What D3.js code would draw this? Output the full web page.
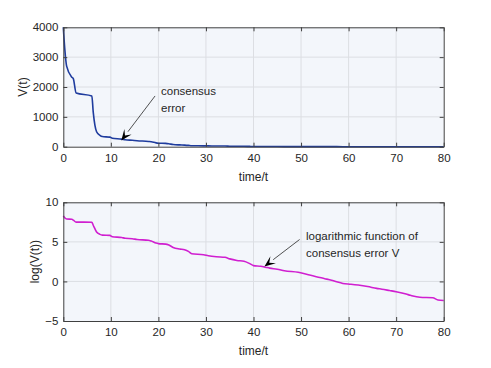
<!DOCTYPE html>
<html>
<head>
<meta charset="utf-8">
<script src="https://cdn.jsdelivr.net/npm/d3@7"></script>
<style>
  body { margin: 0; background: #fff; }
  text { font-family: "Liberation Sans", Arial, sans-serif; fill: #262626; }
</style>
</head>
<body>
<div id="chart"></div>
<script>
// time samples
var timeSteps = [0, 0.3, 0.7, 1.8, 2.1, 2.7, 6.0, 6.3, 7.0, 7.7, 8.2, 9.8, 10.3, 12.3, 13, 14.5, 15.5, 17.9, 18.5, 19.5,
  20, 21.5, 22.2, 23.1, 24.5, 25.5, 26.3, 27, 29.5, 30.5, 32.2, 34, 35, 36.5, 38, 39.2, 40, 41.5, 42.5, 43.4,
  45, 46.5, 49.4, 51.8, 53.2, 55, 56.4, 57.5, 58.8, 60.5, 62, 64, 65.9, 67, 68.6, 70, 72.1, 73, 75, 77.7, 78.8, 80];

// consensus error V(t), top panel
var consensusError = [4000, 3300, 2700, 2330, 2280, 1800, 1700, 1150, 500, 380, 340, 320, 285, 255, 235, 215, 200, 175, 165, 128,
  118, 110, 98, 72, 60, 54, 45, 33, 29, 26, 23, 21, 17, 14, 13, 9.5, 7.4, 6.8, 6.0, 5.4,
  4.7, 3.9, 3.2, 2.2, 1.8, 1.4, 1.2, 0.95, 0.78, 0.7, 0.63, 0.52, 0.41, 0.38, 0.32, 0.27, 0.2, 0.17, 0.135, 0.127, 0.095, 0.09];

// log(V(t)), bottom panel
var logError = [8.29, 8.05, 7.89, 7.85, 7.75, 7.5, 7.48, 7.1, 6.25, 5.95, 5.85, 5.82, 5.65, 5.55, 5.45, 5.4, 5.3, 5.2, 5.1, 4.85,
  4.78, 4.72, 4.6, 4.3, 4.1, 4.0, 3.8, 3.5, 3.38, 3.25, 3.12, 3.05, 2.85, 2.65, 2.55, 2.25, 2.0, 1.92, 1.8, 1.68,
  1.55, 1.35, 1.15, 0.81, 0.6, 0.35, 0.15, -0.05, -0.25, -0.35, -0.46, -0.65, -0.88, -0.98, -1.15, -1.3, -1.6, -1.75, -2.0, -2.06, -2.35, -2.4];

var xTicks = [0, 10, 20, 30, 40, 50, 60, 70, 80];
var topTicks = [0, 1000, 2000, 3000, 4000];
var bottomTicks = [-5, 0, 5, 10];

var width = 491, height = 368;
var svg = d3.select("#chart").append("svg")
    .attr("width", width)
    .attr("height", height);

var left = 63.3, right = 443.7;

function drawPanel(opts) {
  var x = d3.scaleLinear().domain([0, 80]).range([left, right]);
  var y = d3.scaleLinear().domain(opts.yDomain).range([opts.bottom, opts.top]);
  var g = svg.append("g");

  g.append("rect")
    .attr("x", left).attr("y", opts.top)
    .attr("width", right - left).attr("height", opts.bottom - opts.top)
    .attr("fill", "#f3f6fb");

  // grid
  g.selectAll(".vg").data(xTicks.slice(1, -1)).enter().append("line")
    .attr("x1", d => x(d)).attr("x2", d => x(d))
    .attr("y1", opts.top).attr("y2", opts.bottom)
    .attr("stroke", "#dcdee3").attr("stroke-width", 1);
  g.selectAll(".hg").data(opts.yTicks.slice(1, -1)).enter().append("line")
    .attr("x1", left).attr("x2", right)
    .attr("y1", d => y(d)).attr("y2", d => y(d))
    .attr("stroke", "#dcdee3").attr("stroke-width", 1);

  // line
  var line = d3.line().x((d, i) => x(timeSteps[i])).y(d => y(d)).curve(d3.curveMonotoneX);
  g.append("path")
    .datum(opts.values)
    .attr("d", line)
    .attr("fill", "none")
    .attr("stroke", opts.color)
    .attr("stroke-width", 1.6)
    .attr("stroke-linejoin", "round");

  // axes (MATLAB box style, ticks inside)
  var fmt = d3.format("d");
  g.append("g").attr("transform", "translate(0," + opts.bottom + ")")
    .call(d3.axisBottom(x).tickValues(xTicks).tickSizeInner(-4).tickSizeOuter(0).tickPadding(7).tickFormat(fmt));
  g.append("g").attr("transform", "translate(0," + opts.top + ")")
    .call(d3.axisTop(x).tickValues(xTicks).tickSizeInner(-4).tickSizeOuter(0).tickFormat(""));
  g.append("g").attr("transform", "translate(" + left + ",0)")
    .call(d3.axisLeft(y).tickValues(opts.yTicks).tickSizeInner(-4).tickSizeOuter(0).tickPadding(5).tickFormat(fmt));
  g.append("g").attr("transform", "translate(" + right + ",0)")
    .call(d3.axisRight(y).tickValues(opts.yTicks).tickSizeInner(-4).tickSizeOuter(0).tickFormat(""));

  g.selectAll(".domain").attr("stroke", "#404040").attr("stroke-width", 1);
  g.selectAll(".tick line").attr("stroke", "#404040");
  g.selectAll(".tick text").attr("font-size", 11.5).attr("fill", "#262626")
    .attr("font-family", "Liberation Sans, Arial, sans-serif");

  g.append("text")
    .attr("x", (left + right) / 2).attr("y", opts.xLabelY)
    .attr("text-anchor", "middle").attr("font-size", 12)
    .text("time/t");
  g.append("text")
    .attr("transform", "translate(" + opts.yLabelX + "," + (opts.top + opts.bottom) / 2 + ") rotate(-90)")
    .attr("text-anchor", "middle").attr("font-size", 12)
    .text(opts.yLabel);

  // annotation
  opts.note.forEach(function(t, i) {
    g.append("text").attr("x", opts.noteX).attr("y", opts.noteY + i * 16.5)
      .attr("font-size", 11.5).text(t);
  });
  var ax1 = x(opts.arrowFrom[0]), ay1 = y(opts.arrowFrom[1]);
  var ax2 = x(opts.arrowTo[0]), ay2 = y(opts.arrowTo[1]);
  var ang = Math.atan2(ay2 - ay1, ax2 - ax1);
  var hl = 11, hw = 4.5;
  var bx = ax2 - hl * Math.cos(ang), by = ay2 - hl * Math.sin(ang);
  g.append("line").attr("x1", ax1).attr("y1", ay1).attr("x2", bx).attr("y2", by)
    .attr("stroke", "#262626").attr("stroke-width", 0.8);
  var nx = -Math.sin(ang), ny = Math.cos(ang);
  var notch = 0.55;
  var cx = ax2 - hl * notch * Math.cos(ang), cy = ay2 - hl * notch * Math.sin(ang);
  g.append("path")
    .attr("d", "M" + ax2 + "," + ay2 + "L" + (bx + nx * hw) + "," + (by + ny * hw) +
      "L" + cx + "," + cy + "L" + (bx - nx * hw) + "," + (by - ny * hw) + "Z")
    .attr("fill", "#000");
}

drawPanel({
  top: 27.3, bottom: 146.7, yDomain: [0, 4000], yTicks: topTicks,
  values: consensusError, color: "#1f3c9e", yLabel: "V(t)", yLabelX: 27,
  xLabelY: 181,
  note: ["consensus", "error"], noteX: 161, noteY: 95,
  arrowFrom: [19.3, 1700], arrowTo: [12.2, 210]
});

drawPanel({
  top: 202.3, bottom: 321, yDomain: [-5, 10], yTicks: bottomTicks,
  values: logError, color: "#d01fd0", yLabel: "log(V(t))", yLabelX: 39,
  xLabelY: 355,
  note: ["logarithmic function of", "consensus error V"], noteX: 306, noteY: 240,
  arrowFrom: [49.7, 5.3], arrowTo: [42.3, 1.9]
});
</script>
</body>
</html>
